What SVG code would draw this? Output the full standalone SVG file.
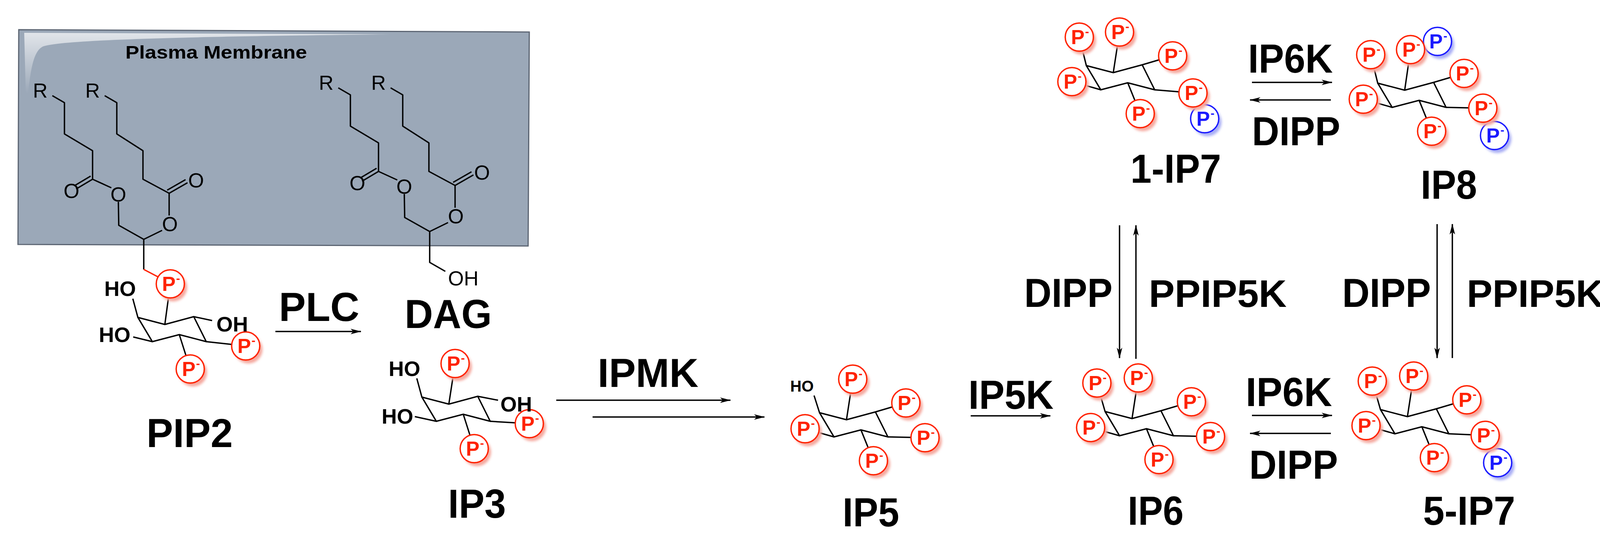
<svg xmlns="http://www.w3.org/2000/svg" xmlns:xlink="http://www.w3.org/1999/xlink" width="4162" height="1424" viewBox="0 0 4162 1424">
<style>
.b{stroke:#000;stroke-width:3.5;fill:none;stroke-linejoin:round}
.rb{stroke:#ff2200;stroke-width:3.5;fill:none}
.lab{font-family:"Liberation Sans",Arial,sans-serif;font-weight:bold;fill:#000}
.big{font-size:104px}
.pp{font-size:99px}
.sm{font-family:"Liberation Sans",Arial,sans-serif;font-weight:bold;font-size:54px}
.rr{font-family:"Liberation Sans",Arial,sans-serif;font-size:52px}
.arr{stroke:#000;stroke-width:3.5;fill:none;marker-end:url(#ah)}
</style>
<defs>
<marker id="ah" viewBox="0 0 20 10" refX="19" refY="5" markerWidth="8" markerHeight="4" markerUnits="strokeWidth" orient="auto"><path d="M0,0 L20,5 L0,10 L5,5 Z" fill="#000"/></marker>
<filter id="bl"><feGaussianBlur stdDeviation="3"/></filter>
<g id="pr"><circle cx="7" cy="9" r="36" fill="#f5a99f" filter="url(#bl)"/><circle r="36" fill="#fff" stroke="#ff2200" stroke-width="3.5"/><text x="-4" y="18" text-anchor="middle" font-family="Liberation Sans,Arial,sans-serif" font-weight="bold" font-size="52" fill="#ff2200">P</text><text x="15" y="-4" font-family="Liberation Sans,Arial,sans-serif" font-weight="bold" font-size="30" fill="#ff2200">-</text></g>
<g id="pb"><circle cx="7" cy="9" r="36" fill="#a9aef5" filter="url(#bl)"/><circle r="36" fill="#fff" stroke="#1a1aff" stroke-width="3.5"/><text x="-4" y="18" text-anchor="middle" font-family="Liberation Sans,Arial,sans-serif" font-weight="bold" font-size="52" fill="#1a1aff">P</text><text x="15" y="-4" font-family="Liberation Sans,Arial,sans-serif" font-weight="bold" font-size="30" fill="#1a1aff">-</text></g>
<path id="ring" d="M0,0 L69,18 L143,-2 L175,62 L106,44 L37,62 Z"/>
<linearGradient id="gl" x1="0" y1="0" x2="0" y2="1"><stop offset="0" stop-color="#fff" stop-opacity="0.7"/><stop offset="1" stop-color="#fff" stop-opacity="0"/></linearGradient>
</defs>
<rect width="4162" height="1424" fill="#fff"/>

<g id="membrane">
<path d="M48,76 L1355,82 L1352,630 L46,626 Z" fill="#9ba8b8" stroke="#5b6472" stroke-width="3"/>
<path d="M62,84 L1000,88 C400,94 150,104 110,119 C90,129 80,160 72,240 L66,240 Z" fill="url(#gl)"/>
<text x="321" y="150" class="lab" font-size="46" textLength="465" lengthAdjust="spacingAndGlyphs">Plasma Membrane</text>
</g>

<g id="PIP2">
<text x="103" y="250" class="rr" text-anchor="middle">R</text>
<text x="237" y="250" class="rr" text-anchor="middle">R</text>
<path class="b" d="M134,245 L165,263 L165,343 L237,386 L237,459 L285,481 M237,459 L195,484 M232,451 L190,476 M303,517 L304,577 L368,613 L415,590 M268,245 L299,263 L299,343 L366,386 L366,459 L433,495 L433,552 M433,495 L480,468 M428,487 L475,460 M368,613 L368,690"/>
<text x="183" y="507" class="rr" text-anchor="middle">O</text>
<text x="303" y="516" class="rr" text-anchor="middle">O</text>
<text x="502" y="480" class="rr" text-anchor="middle">O</text>
<text x="435" y="592" class="rr" text-anchor="middle">O</text>
<path class="rb" d="M368,690 L410,712"/>
<g transform="translate(353,813)">
<use href="#ring" class="b"/>
<path class="b" d="M0,0 L-13,-48 M69,18 L83,-86 M143,-2 L190,8 M175,62 L276,73 M106,44 L134,132 M37,62 L-12,50"/>
<use href="#pr" x="83" y="-86"/><use href="#pr" x="276" y="73"/><use href="#pr" x="134" y="132"/>
</g>
<text x="348" y="758" class="sm" text-anchor="end">HO</text>
<text x="334" y="876" class="sm" text-anchor="end">HO</text>
<text x="554" y="849" class="sm">OH</text>
<text x="375" y="1145" class="lab big" textLength="221" lengthAdjust="spacingAndGlyphs">PIP2</text>
</g>

<g id="DAG">
<text x="835" y="230" class="rr" text-anchor="middle">R</text>
<text x="969" y="230" class="rr" text-anchor="middle">R</text>
<path class="b" d="M866,225 L897,243 L897,323 L969,366 L969,439 L1017,461 M969,439 L927,464 M964,431 L922,456 M1035,497 L1036,557 L1100,593 L1147,570 M1000,225 L1031,243 L1031,323 L1098,366 L1098,439 L1165,475 L1165,532 M1165,475 L1212,448 M1160,467 L1207,440 M1100,593 L1100,672 L1140,695"/>
<text x="915" y="487" class="rr" text-anchor="middle">O</text>
<text x="1035" y="496" class="rr" text-anchor="middle">O</text>
<text x="1234" y="460" class="rr" text-anchor="middle">O</text>
<text x="1167" y="572" class="rr" text-anchor="middle">O</text>
<text x="1147" y="731" class="rr">OH</text>
<text x="1036" y="840" class="lab big" textLength="223" lengthAdjust="spacingAndGlyphs">DAG</text>
</g>

<g id="IP3">
<g transform="translate(1080,1017)">
<use href="#ring" class="b"/>
<path class="b" d="M0,0 L-13,-48 M69,18 L85,-86 M143,-2 L195,8 M175,62 L275,68 M106,44 L134,132 M37,62 L-18,50"/>
<use href="#pr" x="85" y="-86"/><use href="#pr" x="275" y="68"/><use href="#pr" x="134" y="132"/>
</g>
<text x="1076" y="963" class="sm" text-anchor="end">HO</text>
<text x="1058" y="1085" class="sm" text-anchor="end">HO</text>
<text x="1281" y="1054" class="sm">OH</text>
<text x="1147" y="1326" class="lab big" textLength="148" lengthAdjust="spacingAndGlyphs">IP3</text>
</g>

<g id="IP5">
<g transform="translate(2098,1057)">
<use href="#ring" class="b"/>
<path class="b" d="M0,0 L-14,-44 M69,18 L85,-86 M143,-2 L221,-25 M175,62 L270,64 M106,44 L138,123 M37,62 L-37,41"/>
<use href="#pr" x="85" y="-86"/><use href="#pr" x="221" y="-25"/><use href="#pr" x="270" y="64"/><use href="#pr" x="138" y="123"/><use href="#pr" x="-37" y="41"/>
</g>
<text x="2023" y="1003" class="lab" font-size="40">HO</text>
<text x="2157" y="1348" class="lab big" textLength="145" lengthAdjust="spacingAndGlyphs">IP5</text>
</g>

<g id="IP6">
<g transform="translate(2829,1054)">
<use href="#ring" class="b"/>
<path class="b" d="M0,0 L-21,-73 M69,18 L85,-86 M143,-2 L221,-25 M175,62 L270,64 M106,44 L138,123 M37,62 L-37,41"/>
<use href="#pr" x="-21" y="-73"/><use href="#pr" x="85" y="-86"/><use href="#pr" x="221" y="-25"/><use href="#pr" x="270" y="64"/><use href="#pr" x="138" y="123"/><use href="#pr" x="-37" y="41"/>
</g>
<text x="2887" y="1344" class="lab big" textLength="143" lengthAdjust="spacingAndGlyphs">IP6</text>
</g>

<g id="IP7-5">
<g transform="translate(3534,1049)">
<use href="#ring" class="b"/>
<path class="b" d="M0,0 L-21,-73 M69,18 L85,-86 M143,-2 L221,-25 M175,62 L268,66 L300,136 M106,44 L138,123 M37,62 L-37,41"/>
<use href="#pr" x="-21" y="-73"/><use href="#pr" x="85" y="-86"/><use href="#pr" x="221" y="-25"/><use href="#pb" x="300" y="136"/><use href="#pr" x="268" y="66"/><use href="#pr" x="138" y="123"/><use href="#pr" x="-37" y="41"/>
</g>
<text x="3643" y="1344" class="lab big" textLength="236" lengthAdjust="spacingAndGlyphs">5-IP7</text>
</g>

<g id="IP7-1">
<g transform="translate(2781,168)">
<use href="#ring" class="b"/>
<path class="b" d="M0,0 L-18,-73 M69,18 L85,-86 M143,-2 L221,-25 M175,62 L273,70 L303,136 M106,44 L138,123 M37,62 L-37,41"/>
<use href="#pr" x="-18" y="-73"/><use href="#pr" x="85" y="-86"/><use href="#pr" x="221" y="-25"/><use href="#pb" x="303" y="136"/><use href="#pr" x="273" y="70"/><use href="#pr" x="138" y="123"/><use href="#pr" x="-37" y="41"/>
</g>
<text x="2894" y="468" class="lab big" textLength="232" lengthAdjust="spacingAndGlyphs">1-IP7</text>
</g>

<g id="IP8">
<g transform="translate(3527,213)">
<use href="#ring" class="b"/>
<path class="b" d="M0,0 L-18,-73 M69,18 L84,-86 L153,-107 M143,-2 L221,-25 M175,62 L269,64 L299,134 M106,44 L138,123 M37,62 L-37,41"/>
<use href="#pr" x="-18" y="-73"/><use href="#pb" x="153" y="-107"/><use href="#pr" x="84" y="-86"/><use href="#pr" x="221" y="-25"/><use href="#pb" x="299" y="134"/><use href="#pr" x="269" y="64"/><use href="#pr" x="138" y="123"/><use href="#pr" x="-37" y="41"/>
</g>
<text x="3637" y="509" class="lab big" textLength="144" lengthAdjust="spacingAndGlyphs">IP8</text>
</g>

<g id="connectors">
<path class="arr" d="M705,849 L924,849"/>
<path class="arr" d="M1424,1025 L1870,1025"/>
<path class="arr" d="M1517,1068 L1957,1068"/>
<path class="arr" d="M2485,1065 L2689,1065"/>
<path class="arr" d="M3205,211 L3410,211"/>
<path class="arr" d="M3407,256 L3200,256"/>
<path class="arr" d="M3205,1064 L3410,1064"/>
<path class="arr" d="M3407,1110 L3200,1110"/>
<path class="arr" d="M2866,577 L2866,917"/>
<path class="arr" d="M2908,919 L2908,577"/>
<path class="arr" d="M3679,574 L3679,917"/>
<path class="arr" d="M3718,917 L3718,574"/>
</g>

<g id="labels">
<text x="714" y="822" class="lab big" textLength="206" lengthAdjust="spacingAndGlyphs">PLC</text>
<text x="1530" y="991" class="lab big" textLength="258" lengthAdjust="spacingAndGlyphs">IPMK</text>
<text x="2479" y="1047" class="lab big" textLength="218" lengthAdjust="spacingAndGlyphs">IP5K</text>
<text x="3195" y="186" class="lab big" textLength="217" lengthAdjust="spacingAndGlyphs">IP6K</text>
<text x="3205" y="372" class="lab big" textLength="226" lengthAdjust="spacingAndGlyphs">DIPP</text>
<text x="3189" y="1040" class="lab big" textLength="221" lengthAdjust="spacingAndGlyphs">IP6K</text>
<text x="3198" y="1226" class="lab big" textLength="227" lengthAdjust="spacingAndGlyphs">DIPP</text>
<text x="2622" y="786" class="lab big" textLength="226" lengthAdjust="spacingAndGlyphs">DIPP</text>
<text x="2941" y="786" class="lab pp" textLength="353" lengthAdjust="spacingAndGlyphs">PPIP5K</text>
<text x="3436" y="786" class="lab big" textLength="227" lengthAdjust="spacingAndGlyphs">DIPP</text>
<text x="3755" y="786" class="lab pp" textLength="350" lengthAdjust="spacingAndGlyphs">PPIP5K</text>
</g>
</svg>
